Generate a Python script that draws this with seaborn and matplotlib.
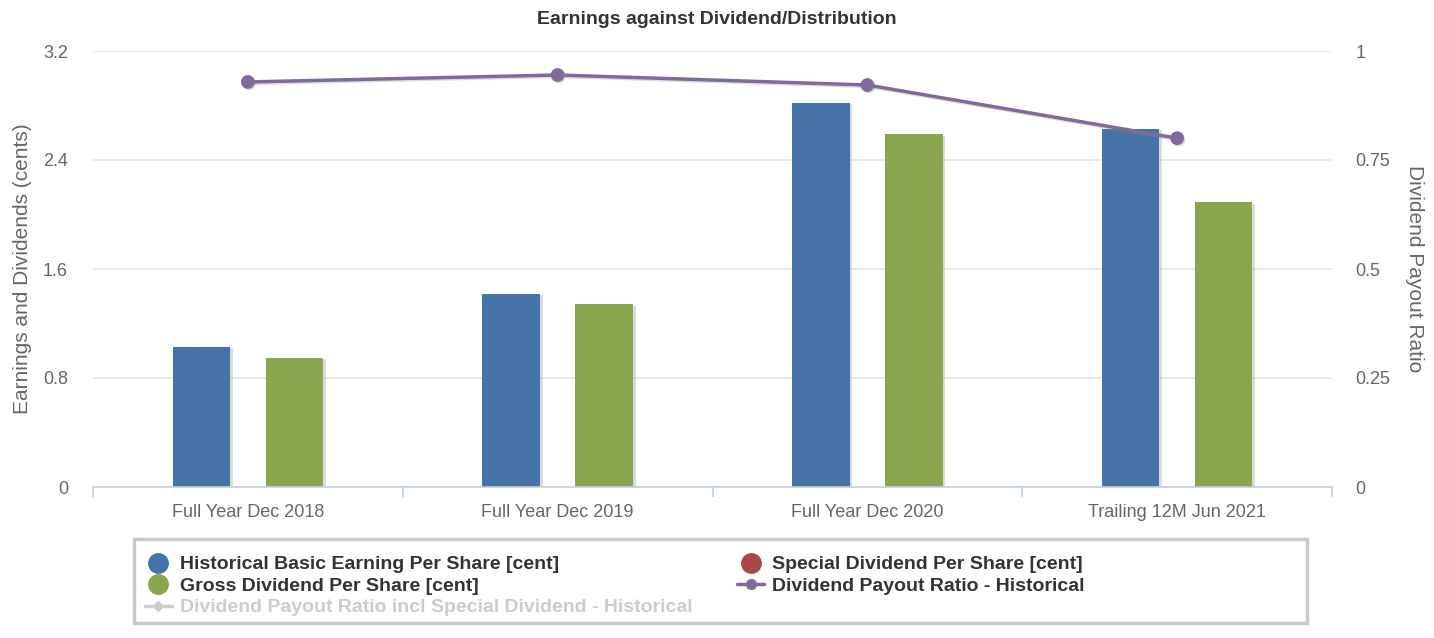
import numpy as np
import pandas as pd
import matplotlib
matplotlib.use('Agg')
import matplotlib.pyplot as plt
import matplotlib.patheffects as pe
from matplotlib.lines import Line2D
from matplotlib.patches import Rectangle
import seaborn as sns

# data
periods = ['Full Year Dec 2018', 'Full Year Dec 2019', 'Full Year Dec 2020', 'Trailing 12M Jun 2021']
eps = [1.03, 1.42, 2.82, 2.63]
gross_div = [0.95, 1.34, 2.59, 2.09]
payout_ratio = [0.929, 0.945, 0.922, 0.80]

left_ticks = [0, 0.8, 1.6, 2.4, 3.2]
left_labels = ['0', '0.8', '1.6', '2.4', '3.2']
right_ticks = [0, 0.25, 0.5, 0.75, 1]
right_labels = ['0', '0.25', '0.5', '0.75', '1']

eps_name = 'Historical Basic Earning Per Share [cent]'
special_name = 'Special Dividend Per Share [cent]'
gross_name = 'Gross Dividend Per Share [cent]'
ratio_name = 'Dividend Payout Ratio - Historical'
ratio_incl_name = 'Dividend Payout Ratio incl Special Dividend - Historical'

blue = '#4572A7'
red = '#AA4643'
green = '#89A54E'
purple = '#80699B'
grey_txt = '#666666'

sns.set_theme(style='white')
plt.rcParams['font.family'] = ['Liberation Sans', 'DejaVu Sans']

df = pd.DataFrame({
    'period': periods * 2,
    'series': [eps_name] * 4 + [gross_name] * 4,
    'value': eps + gross_div,
})

fig = plt.figure(figsize=(14.34, 6.38), dpi=100)
ax = fig.add_axes([93 / 1434, 1 - 487 / 638, (1332 - 93) / 1434, (487 - 51) / 638])

sns.barplot(data=df, x='period', y='value', hue='series',
            hue_order=[eps_name, gross_name], palette=[blue, green],
            saturation=1, width=0.6, gap=0.38,
            linewidth=0, errorbar=None, legend=False, ax=ax, zorder=3)
for p in ax.patches:
    p.set_path_effects([pe.SimplePatchShadow(offset=(2, -1), shadow_rgbFace='#999999', alpha=0.35), pe.Normal()])

ax.set_ylim(0, 3.2)
ax.set_xlim(-0.5, 3.5)
ax.set_yticks(left_ticks)
ax.set_yticklabels(left_labels)
ax.yaxis.grid(True, color='#E6E6E6', linewidth=1.2, zorder=0)
ax.set_axisbelow(True)
for s in ['top', 'right', 'left']:
    ax.spines[s].set_visible(False)
ax.spines['bottom'].set_color('#C0D0E0')
ax.spines['bottom'].set_linewidth(1.2)
ax.spines['bottom'].set_zorder(4)
ax.set_xticks(np.arange(len(periods) + 1) - 0.5, minor=True)
ax.tick_params(axis='x', which='minor', length=7, width=1.2, color='#C0D0E0', bottom=True)
ax.tick_params(axis='x', which='major', length=0, pad=12, labelsize=13, labelcolor=grey_txt)
ax.tick_params(axis='y', length=0, pad=18, labelsize=13, labelcolor=grey_txt)
ax.set_xlabel('')
ax.set_ylabel('Earnings and Dividends (cents)', fontsize=15, color=grey_txt, labelpad=8)

ax2 = ax.twinx()
sns.pointplot(x=periods, y=payout_ratio, color=purple, markers='o', markersize=8,
              linewidth=2.5, ax=ax2, zorder=5)
for ln in ax2.lines:
    ln.set_path_effects([pe.SimpleLineShadow(offset=(1, -1), shadow_color='#888888', alpha=0.3), pe.Normal()])
ax2.set_ylim(0, 1)
ax2.set_xlim(-0.5, 3.5)
ax2.set_yticks(right_ticks)
ax2.set_yticklabels(right_labels)
ax2.tick_params(axis='y', length=0, pad=17, labelsize=13, labelcolor=grey_txt)
for s in ax2.spines.values():
    s.set_visible(False)
ax2.set_ylabel('Dividend Payout Ratio', fontsize=15, color=grey_txt, rotation=270, labelpad=24)
ax2.grid(False)

fig.text(0.5, 1 - 19 / 638, 'Earnings against Dividend/Distribution', ha='center', va='center',
         fontsize=14, fontweight='bold', color='#333333')

# legend box
fig.patches.append(Rectangle((134 / 1434, 1 - 623 / 638), (1307 - 134) / 1434, 84 / 638,
                             transform=fig.transFigure, facecolor='white', edgecolor='#C8C8C8',
                             linewidth=2.5, zorder=0))
handles = [
    Line2D([], [], marker='o', linestyle='none', markersize=14, color=blue),
    Line2D([], [], marker='o', linestyle='none', markersize=14, color=green),
    Line2D([], [], marker='D', linestyle='-', markersize=5, linewidth=2.5, color='#CCCCCC'),
    Line2D([], [], marker='o', linestyle='none', markersize=14, color=red),
    Line2D([], [], marker='o', linestyle='-', markersize=7, linewidth=2.5, color=purple),
]
labels = [eps_name, gross_name, ratio_incl_name, special_name, ratio_name]
leg = fig.legend(handles, labels, ncol=2, loc='upper left',
                 bbox_to_anchor=(135 / 1434, 1 - 546 / 638), frameon=False,
                 prop={'weight': 'bold', 'size': 14}, handlelength=1.4, handletextpad=0.4,
                 labelspacing=0.2, columnspacing=2.3, borderpad=0)
for i, t in enumerate(leg.get_texts()):
    t.set_color('#CCCCCC' if i == 2 else '#333333')

fig.savefig('out.png', dpi=100)
